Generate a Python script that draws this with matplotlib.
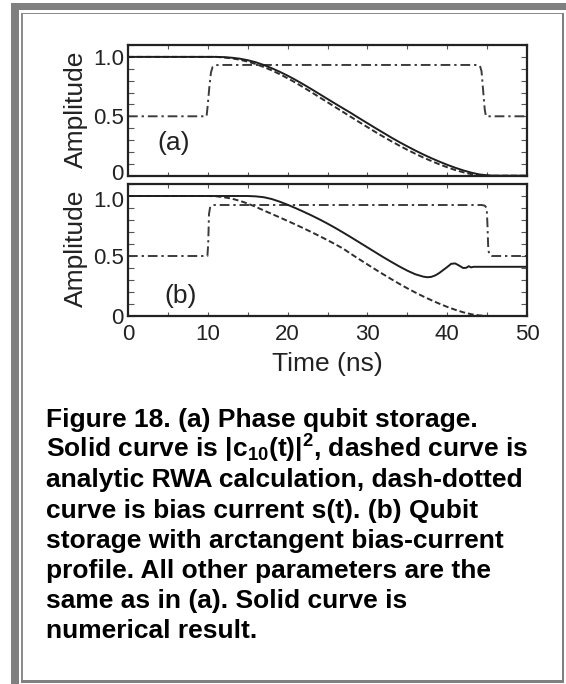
import matplotlib
matplotlib.use("Agg")
import matplotlib.pyplot as plt
from matplotlib.patches import Rectangle
from matplotlib.ticker import MultipleLocator, FixedLocator
from matplotlib.transforms import ScaledTranslation

plt.rcParams["font.family"] = ["Liberation Sans", "DejaVu Sans"]
plt.rcParams["mathtext.fontset"] = "custom"
plt.rcParams["mathtext.rm"] = "Liberation Sans:bold"
plt.rcParams["mathtext.it"] = "Liberation Sans:bold"
plt.rcParams["mathtext.bf"] = "Liberation Sans:bold"

# ---- data (time in ns, amplitude) ----
# panel (a)
t_a = [0, 11, 12, 13, 14, 15, 16, 17, 18, 19, 20, 21, 22, 23, 24, 25, 26, 27, 28,
       29, 30, 31, 32, 33, 34, 35, 36, 37, 38, 39, 40, 41, 42, 43, 44, 45, 46, 50]
solid_a = [1.0, 1.0, 0.998, 0.993, 0.985, 0.972, 0.955, 0.932, 0.905, 0.875, 0.842,
           0.806, 0.768, 0.728, 0.687, 0.646, 0.605, 0.565, 0.525, 0.483, 0.442,
           0.401, 0.361, 0.321, 0.283, 0.247, 0.212, 0.179, 0.148, 0.119, 0.092,
           0.067, 0.045, 0.026, 0.011, 0.003, 0.0, 0.0]
dashed_a = [1.0, 1.0, 0.995, 0.988, 0.976, 0.96, 0.94, 0.915, 0.887, 0.855, 0.82,
            0.783, 0.743, 0.702, 0.66, 0.618, 0.576, 0.534, 0.492, 0.45, 0.409,
            0.368, 0.328, 0.29, 0.253, 0.218, 0.185, 0.153, 0.124, 0.096, 0.071,
            0.048, 0.029, 0.013, 0.004, 0.0, 0.0, 0.0]
t_bias_a = [0, 9.85, 10.0, 10.2, 10.4, 10.6, 10.9, 11.5, 43.8, 44.1, 44.3, 44.5, 44.7, 44.85, 50]
bias_a = [0.5, 0.5, 0.6, 0.75, 0.87, 0.915, 0.93, 0.932, 0.932, 0.925, 0.88, 0.72, 0.56, 0.5, 0.5]

# panel (b)
t_solid_b = [0, 15, 16, 17, 18, 19, 20, 21, 22, 23, 24, 25, 26, 27, 28, 29, 30, 31, 32,
             33, 34, 35, 36, 37, 37.5, 38, 38.5, 39, 39.5, 40, 40.5, 41, 41.5, 42,
             42.4, 42.7, 43.0, 43.3, 44, 50]
solid_b = [1.0, 1.0, 0.997, 0.99, 0.975, 0.953, 0.927, 0.899, 0.869, 0.838, 0.805,
           0.77, 0.733, 0.694, 0.654, 0.613, 0.572, 0.531, 0.49, 0.451, 0.413, 0.378,
           0.348, 0.328, 0.323, 0.326, 0.338, 0.358, 0.383, 0.408, 0.435, 0.438,
           0.42, 0.4, 0.402, 0.415, 0.405, 0.41, 0.41, 0.41]
t_dashed_b = [0, 10, 11, 12, 13, 14, 15, 16, 17, 18, 19, 20, 21, 22, 23, 24, 25, 26,
              27, 28, 29, 30, 31, 32, 33, 34, 35, 36, 37, 38, 39, 40, 41, 42, 43, 44, 45, 50]
dashed_b = [1.0, 1.0, 0.998, 0.99, 0.978, 0.96, 0.937, 0.91, 0.88, 0.851, 0.822, 0.792,
            0.762, 0.731, 0.699, 0.666, 0.632, 0.597, 0.56, 0.515, 0.472, 0.43, 0.388,
            0.347, 0.307, 0.268, 0.231, 0.196, 0.163, 0.132, 0.103, 0.076, 0.052,
            0.031, 0.015, 0.005, 0.0, 0.0]
t_bias_b = [0, 9.95, 10.05, 10.15, 10.3, 10.5, 10.8, 44.3, 44.7, 44.95, 45.05, 45.15, 45.3, 45.6, 50]
bias_b = [0.5, 0.5, 0.6, 0.85, 0.91, 0.922, 0.925, 0.925, 0.92, 0.9, 0.75, 0.55, 0.51, 0.5, 0.5]

y_ticks = [0, 0.5, 1.0]
y_ticklabels = ["0", "0.5", "1.0"]

caption = [
    "Figure 18. (a) Phase qubit storage.",
    r"Solid curve is |c$_{10}$(t)|$^{2}$, dashed curve is",
    "analytic RWA calculation, dash-dotted",
    "curve is bias current s(t). (b) Qubit",
    "storage with arctangent bias-current",
    "profile. All other parameters are the",
    "same as in (a). Solid curve is",
    "numerical result.",
]

W, H = 566, 684
fig = plt.figure(figsize=(W / 100, H / 100), dpi=100)


def px_rect(x0, y0, w, h, color):
    fig.patches.append(Rectangle((x0 / W, 1 - (y0 + h) / H), w / W, h / H,
                                 transform=fig.transFigure, color=color, lw=0, zorder=0))


# page frame
px_rect(11, 3, 555, 6.5, "#808080")
px_rect(11, 3, 7.5, 681, "#808080")
px_rect(21, 12.5, 542, 1.5, "#8c8c8c")
px_rect(21, 12.5, 1.5, 670, "#8c8c8c")
px_rect(561.5, 12.5, 2.5, 670.5, "#808080")
px_rect(21, 680, 543, 2.5, "#808080")

ax_a = fig.add_axes([128 / W, 1 - 175.7 / H, 399 / W, 130.7 / H])
ax_b = fig.add_axes([128 / W, 1 - 316 / H, 399 / W, 132 / H])

line_kw = dict(lw=1.4, solid_capstyle="butt", dash_capstyle="butt")
dashed_ls = (0, (3.0, 1.5))
dashdot_ls = (0, (5.0, 2.0, 1.2, 2.0))

for ax, ts, ys, td, yd, tb, yb, tag, tag_xy in [
    (ax_a, t_a, solid_a, t_a, dashed_a, t_bias_a, bias_a, "(a)", (5.75, 0.277)),
    (ax_b, t_solid_b, solid_b, t_dashed_b, dashed_b, t_bias_b, bias_b, "(b)", (6.6, 0.167)),
]:
    ax.plot(tb, yb, color="#3c3c3c", ls=dashdot_ls, **line_kw)
    ax.plot(td, yd, color="#2e2e2e", ls=dashed_ls, **line_kw)
    ax.plot(ts, ys, color="#1e1e1e", ls="-", **line_kw)
    ax.text(tag_xy[0], tag_xy[1], tag, fontsize=19, color="#222", ha="center", va="center")

    ax.set_xlim(0, 50)
    ax.set_ylim(0, 1.1)
    ax.xaxis.set_major_locator(MultipleLocator(10))
    ax.xaxis.set_minor_locator(MultipleLocator(5))
    ax.yaxis.set_major_locator(FixedLocator(y_ticks))
    ax.yaxis.set_minor_locator(MultipleLocator(0.1))
    ax.set_yticklabels(y_ticklabels)
    ax.tick_params(axis="both", which="both", direction="in", top=True, right=True,
                   color="#555", width=0.8, labelcolor="#222")
    ax.tick_params(axis="x", which="both", length=3, labelsize=16, pad=6)
    ax.tick_params(axis="y", which="both", length=4.3, labelsize=16, pad=3)
    for s in ax.spines.values():
        s.set_linewidth(1.6)
        s.set_color("#222")
    ax.set_ylabel("Amplitude", fontsize=19, color="#222")
    ax.yaxis.set_label_coords(-0.1, 0.51)

# nudge the two labels that meet at the panel boundary apart, as in the original
lab_a0 = ax_a.get_yticklabels()[0]
lab_a0.set_transform(lab_a0.get_transform() + ScaledTranslation(0, 3.5 / 100, fig.dpi_scale_trans))
lab_b1 = ax_b.get_yticklabels()[-1]
lab_b1.set_transform(lab_b1.get_transform() + ScaledTranslation(0, -2.5 / 100, fig.dpi_scale_trans))

ax_a.tick_params(axis="x", labelbottom=False)
ax_b.set_xlabel("Time (ns)", fontsize=19, color="#222")
ax_b.xaxis.set_label_coords(0.5, -0.272)

for i, line in enumerate(caption):
    fig.text(46 / W, 1 - (427 + i * 30.2) / H, line, fontsize=19, fontweight="bold",
             color="black", ha="left", va="baseline")

fig.savefig("out.png", dpi=100)
